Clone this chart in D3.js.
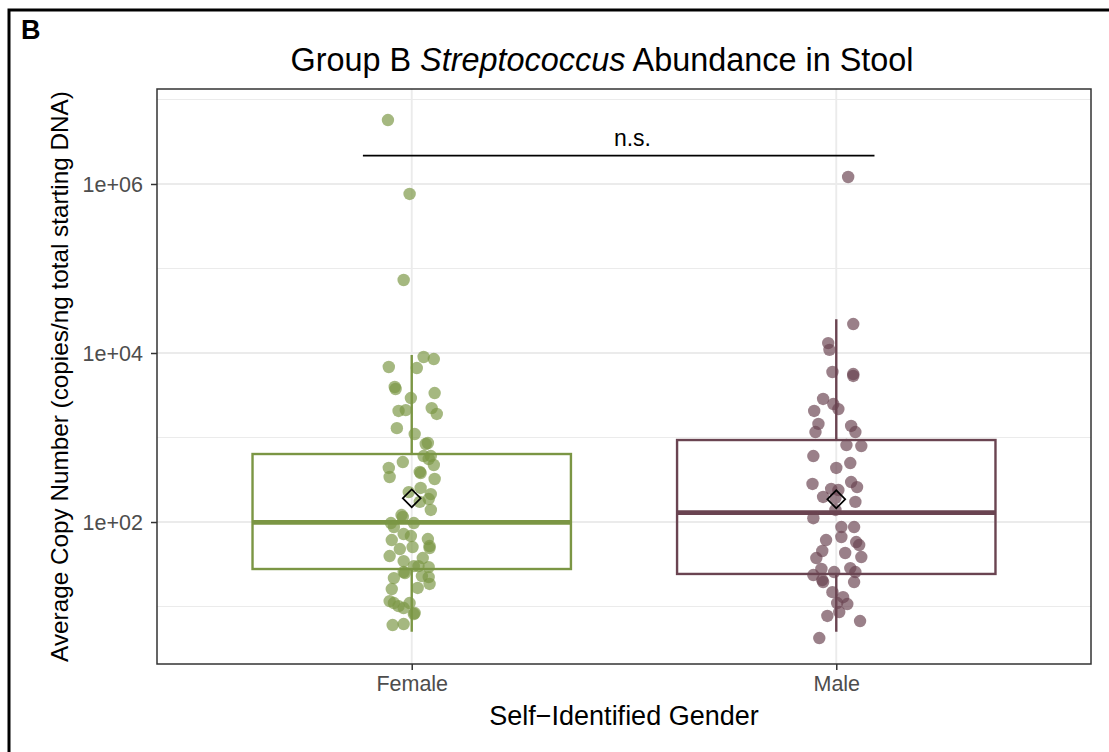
<!DOCTYPE html>
<html>
<head>
<meta charset="utf-8">
<script src="https://cdn.jsdelivr.net/npm/d3@7"></script>
<style>
  body { margin: 0; background: #fff; }
  svg { display: block; }
  text { font-family: "Liberation Sans", Arial, Helvetica, sans-serif; }
</style>
</head>
<body>
<svg id="chart" width="1109" height="752"></svg>
<script>
// ---- data ----
const groups = ["Female", "Male"];

// copies / ng total starting DNA, one value per stool sample
const femaleValues = [5.71e6, 7.62e5, 7.31e4, 6830, 8970, 8490, 6640, 3960, 3750, 3360,
  2930, 2060, 2110, 2230, 1900, 1290, 1100, 838, 861, 604,
  604, 557, 513, 473, 436, 341, 391, 380, 323, 253,
  226, 214, 187, 173, 139, 121, 115, 97.3, 87.3, 97.3,
  72.1, 68.3, 61.2, 62.9, 52.0, 49.2, 47.9, 50.6, 39.6, 34.5,
  37.5, 30.1, 30.1, 29.3, 25.6, 24.9, 22.9, 22.3, 21.7, 18.5,
  16.6, 16.1, 11.6, 11.0, 10.1, 9.6, 11.0, 8.15, 8.38, 6.04, 6.21];
// horizontal jitter, in category units
const femaleJitter = [-0.056, -0.005, -0.019, -0.054, 0.028, 0.052, 0.012, -0.040, -0.038, 0.054,
  -0.002, -0.031, -0.014, 0.047, 0.059, -0.035, 0.007, 0.033, 0.038, 0.028,
  0.045, 0.040, -0.021, 0.052, -0.054, -0.052, 0.019, 0.021, 0.054, 0.021,
  -0.007, 0.045, 0.040, 0.019, 0.045, -0.024, -0.021, -0.049, -0.042, 0.005,
  -0.019, -0.002, -0.047, 0.038, 0.042, 0.042, -0.028, 0.002, -0.052, -0.019,
  0.026, 0.005, 0.016, 0.040, -0.019, -0.016, 0.024, 0.040, -0.042, 0.042,
  0.014, -0.047, -0.052, -0.042, -0.031, -0.019, -0.005, 0.005, 0.007, -0.045, -0.019];

const maleValues = [1.21e6, 2.20e4, 1.31e4, 1.09e4, 5960, 5640, 5350, 2860, 2490, 2170,
  2060, 1450, 1160, 1370, 1160, 815, 793, 604, 499, 436,
  282, 246, 239, 297, 259, 198, 192, 139, 173, 111,
  87.3, 87.3, 66.5, 61.2, 58.0, 53.4, 45.4, 37.5, 43.0, 38.5,
  27.8, 23.6, 28.5, 25.6, 25.6, 20.6, 19.5, 19.5, 14.8, 12.9,
  10.7, 11.0, 8.61, 7.73, 6.73, 4.24];
const maleJitter = [0.028, 0.040, -0.019, -0.016, -0.009, 0.040, 0.040, -0.031, -0.007, 0.005,
  -0.052, -0.042, -0.049, 0.035, 0.045, 0.024, 0.059, -0.054, 0.033, 0,
  -0.056, -0.012, 0.005, 0.035, 0.049, -0.031, -0.002, -0.002, 0.045, -0.054,
  0.012, 0.042, 0.012, -0.024, 0.047, 0.054, -0.033, -0.047, 0.021, 0.059,
  -0.035, -0.054, 0.033, 0.045, -0.005, -0.033, -0.031, 0.042, -0.009, 0.016,
  0.026, 0.002, 0.007, -0.021, 0.056, -0.040];

// box-plot summaries per group (Female, Male)
const whiskerLow = [5.03, 5.03];
const quartile1 = [27.8, 24.3];
const medians = [99, 129];
const quartile3 = [638, 934];
const whiskerHigh = [9470, 25100];
const groupMeans = [191, 186];

// axis ticks
const yMajorTicks = [1e2, 1e4, 1e6];
const yTickLabels = ["1e+02", "1e+04", "1e+06"];
const yMinorTicks = [1e1, 1e3, 1e5, 1e7];

// significance bracket between the two groups
const bracketFrom = 0.885;   // category units (1 = Female, 2 = Male)
const bracketTo = 2.09;
const bracketLevel = 2.16e6;
const bracketLabelAt = 1.52;
const bracketLabel = "n.s.";

// ---- styling ----
const fillColors = ["#7b9644", "#6a4451"];
const strokeColors = ["#7b9644", "#6a4451"];

const svg = d3.select("#chart");
const W = 1109, H = 752;
const panel = { left: 157, right: 1091, top: 89, bottom: 664 };

svg.append("rect").attr("width", W).attr("height", H).attr("fill", "#fff");

// outer figure frame
svg.append("rect")
  .attr("x", 9).attr("y", 10).attr("width", W + 20).attr("height", H + 20)
  .attr("fill", "none").attr("stroke", "#000").attr("stroke-width", 3);

svg.append("text").attr("x", 21).attr("y", 39)
  .attr("font-size", 27).attr("font-weight", "bold").attr("fill", "#000").text("B");

// scales
const x = d3.scalePoint().domain(groups).range([panel.left, panel.right]).padding(0.6);
const step = x.step();
const y = d3.scaleLog().domain([Math.pow(10, 0.32), Math.pow(10, 7.124)]).range([panel.bottom, panel.top]);
const xAt = u => x(groups[0]) + (u - 1) * step;

// grid
const grid = svg.append("g");
grid.selectAll(".minor").data(yMinorTicks).join("line")
  .attr("x1", panel.left).attr("x2", panel.right)
  .attr("y1", d => y(d)).attr("y2", d => y(d))
  .attr("stroke", "#ebebeb").attr("stroke-width", 1.1);
grid.selectAll(".major").data(yMajorTicks).join("line")
  .attr("x1", panel.left).attr("x2", panel.right)
  .attr("y1", d => y(d)).attr("y2", d => y(d))
  .attr("stroke", "#ebebeb").attr("stroke-width", 1.9);
grid.selectAll(".vmajor").data(groups).join("line")
  .attr("x1", d => x(d)).attr("x2", d => x(d))
  .attr("y1", panel.top).attr("y2", panel.bottom)
  .attr("stroke", "#ebebeb").attr("stroke-width", 1.9);

// box plots
const boxW = step * 0.75;
groups.forEach((g, i) => {
  const cx = x(g);
  const bg = svg.append("g").attr("stroke", strokeColors[i]).attr("fill", "none");
  bg.append("line").attr("x1", cx).attr("x2", cx)
    .attr("y1", y(quartile3[i])).attr("y2", y(whiskerHigh[i])).attr("stroke-width", 2.4);
  bg.append("line").attr("x1", cx).attr("x2", cx)
    .attr("y1", y(quartile1[i])).attr("y2", y(whiskerLow[i])).attr("stroke-width", 2.4);
  bg.append("rect").attr("x", cx - boxW / 2).attr("width", boxW)
    .attr("y", y(quartile3[i])).attr("height", y(quartile1[i]) - y(quartile3[i]))
    .attr("stroke-width", 2.4);
  bg.append("line").attr("x1", cx - boxW / 2).attr("x2", cx + boxW / 2)
    .attr("y1", y(medians[i])).attr("y2", y(medians[i])).attr("stroke-width", 4.8);
});

// jittered samples
const series = [
  { values: femaleValues, jitter: femaleJitter },
  { values: maleValues, jitter: maleJitter }
];
series.forEach((s, i) => {
  svg.append("g").selectAll("circle")
    .data(s.values.map((v, k) => ({ v, j: s.jitter[k] })))
    .join("circle")
    .attr("cx", d => x(groups[i]) + d.j * step)
    .attr("cy", d => y(d.v))
    .attr("r", 6.2)
    .attr("fill", fillColors[i])
    .attr("fill-opacity", 0.68);
});

// group means
svg.append("g").selectAll("path").data(groupMeans).join("path")
  .attr("d", d3.symbol().type(d3.symbolSquare).size(160))
  .attr("transform", (d, i) => `translate(${x(groups[i])},${y(d)}) rotate(45)`)
  .attr("fill", "none").attr("stroke", "#000").attr("stroke-width", 1.7);

// significance bracket
svg.append("line")
  .attr("x1", xAt(bracketFrom)).attr("x2", xAt(bracketTo))
  .attr("y1", y(bracketLevel)).attr("y2", y(bracketLevel))
  .attr("stroke", "#000").attr("stroke-width", 1.8);
svg.append("text").attr("x", xAt(bracketLabelAt)).attr("y", y(bracketLevel) - 10)
  .attr("text-anchor", "middle").attr("font-size", 23).attr("fill", "#000").text(bracketLabel);

// panel border
svg.append("rect").attr("x", panel.left).attr("y", panel.top)
  .attr("width", panel.right - panel.left).attr("height", panel.bottom - panel.top)
  .attr("fill", "none").attr("stroke", "#333").attr("stroke-width", 1.5);

// axes
const yAxis = d3.axisLeft(y).tickValues(yMajorTicks)
  .tickFormat((d, i) => yTickLabels[i]).tickSize(6).tickPadding(8);
const yg = svg.append("g").attr("transform", `translate(${panel.left},0)`).call(yAxis);
yg.select(".domain").remove();
yg.selectAll(".tick line").attr("stroke", "#333").attr("stroke-width", 1.5);
yg.selectAll(".tick text").attr("font-size", 21.5).attr("fill", "#4d4d4d")
  .attr("font-family", "'Liberation Sans', Arial, sans-serif").attr("dy", "0.36em");

const xAxis = d3.axisBottom(x).tickSize(6).tickPadding(6);
const xg = svg.append("g").attr("transform", `translate(0,${panel.bottom})`).call(xAxis);
xg.select(".domain").remove();
xg.selectAll(".tick line").attr("stroke", "#333").attr("stroke-width", 1.5);
xg.selectAll(".tick text").attr("font-size", 21.5).attr("fill", "#4d4d4d")
  .attr("font-family", "'Liberation Sans', Arial, sans-serif").attr("dy", "0.71em");

// titles
const title = svg.append("text").attr("x", 602).attr("y", 71)
  .attr("text-anchor", "middle").attr("font-size", 32.4).attr("fill", "#000");
title.append("tspan").text("Group B ");
title.append("tspan").attr("font-style", "italic").text("Streptococcus");
title.append("tspan").text(" Abundance in Stool");

svg.append("text").attr("x", (panel.left + panel.right) / 2).attr("y", 725)
  .attr("text-anchor", "middle").attr("font-size", 27).attr("fill", "#000")
  .text("Self\u2212Identified Gender");

svg.append("text")
  .attr("transform", `translate(68,${(panel.top + panel.bottom) / 2}) rotate(-90)`)
  .attr("text-anchor", "middle").attr("font-size", 24.3).attr("fill", "#000")
  .text("Average Copy Number (copies/ng total starting DNA)");
</script>
</body>
</html>
